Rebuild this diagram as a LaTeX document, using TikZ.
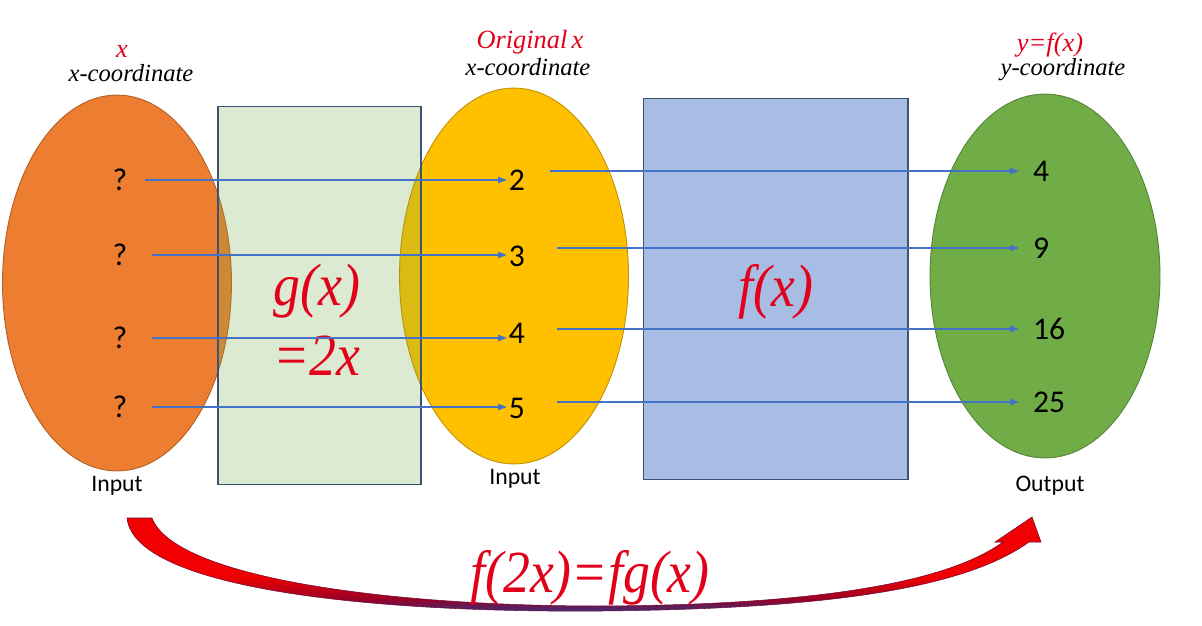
\documentclass[tikz,border=0pt]{standalone}
\usepackage{fontspec}
\setmainfont{Liberation Serif}
\setsansfont{Carlito}
\newfontfamily\labelserif{Liberation Serif}
\usetikzlibrary{arrows.meta, shapes.geometric}

\definecolor{setorange}{RGB}{237,125,49}
\definecolor{setyellow}{RGB}{255,192,0}
\definecolor{setgreen}{RGB}{112,173,71}
\definecolor{boxblue}{RGB}{168,189,228}
\definecolor{boxedge}{RGB}{62,82,118}
\definecolor{linkblue}{RGB}{68,114,196}
\definecolor{redtext}{RGB}{226,0,26}
\definecolor{arrowred}{RGB}{240,0,0}
\definecolor{arrowdark}{RGB}{150,0,40}
\definecolor{arrowblue}{RGB}{45,55,135}

\pgfdeclareverticalshading{bendshade}{100bp}{color(0bp)=(arrowblue); color(25bp)=(arrowblue);
  color(32bp)=(arrowdark); color(44bp)=(arrowred); color(100bp)=(arrowred)}

\begin{document}
\begin{tikzpicture}[x=0.02cm, y=-0.02cm,
    blob/.style={ellipse, line width=0.5pt, inner sep=0pt},
    mapbox/.style={rectangle, draw=boxedge, line width=0.6pt, inner sep=0pt},
    num/.style={font=\sffamily\fontsize{18}{20}\selectfont, inner sep=1pt},
    link/.style={draw=linkblue, line width=0.6pt, -{Triangle[length=5pt, width=3.6pt]}},
    coordlbl/.style={font=\labelserif\itshape\fontsize{14}{16}\selectfont, inner sep=0pt},
    redlbl/.style={font=\labelserif\itshape\fontsize{15}{17}\selectfont, text=redtext, inner sep=0pt},
    biglbl/.style={font=\labelserif\itshape\fontsize{34}{40}\selectfont, text=redtext, xscale=0.9, inner sep=0pt, align=center},
    iolbl/.style={font=\sffamily\fontsize{13.5}{15}\selectfont, inner sep=0pt}]

    \useasboundingbox (0,0) rectangle (1202,625);

    % 1. sets and mapping boxes
    \node[blob, fill=setorange, draw=setorange!75!black, minimum width=4.58cm, minimum height=7.52cm] (inset) at (117,283) {};
    \node[blob, fill=setyellow, draw=setyellow!75!black, minimum width=4.58cm, minimum height=7.52cm] (midset) at (514,276) {};
    \node[mapbox, fill=setgreen, fill opacity=0.25, minimum width=4.06cm, minimum height=7.58cm] (gbox) at (319.5,295.5) {};
    \node[mapbox, fill=boxblue, minimum width=5.3cm, minimum height=7.64cm] (fbox) at (775.5,289) {};
    \node[blob, fill=setgreen, draw=setgreen!75!black, minimum width=4.6cm, minimum height=7.28cm] (outset) at (1045,276) {};

    % 2. labels above the sets
    \node[redlbl] (xname) at (122,51) {x};
    \node[coordlbl] (xcoordA) at (131,73) {x-coordinate};
    \node[redlbl] (origname) at (530,42) {Original\,x};
    \node[coordlbl] (xcoordB) at (528,67) {x-coordinate};
    \node[redlbl] (yname) at (1050,45) {y=f(x)};
    \node[coordlbl] (ycoord) at (1063,70) {y-coordinate};

    % 3. labels below the sets
    \node[iolbl] (inA) at (117,486) {Input};
    \node[iolbl] (inB) at (515,479) {Input};
    \node[iolbl] (outC) at (1050,486) {Output};

    % 4. function names
    \node[biglbl] (gname) at (317,320) {g(x)\\=2x};
    \node[biglbl] (fname) at (776,292) {f(x)};

    % 5. elements of the sets
    \node[num] (q1) at (120,180) {?};
    \node[num] (q2) at (120,255) {?};
    \node[num] (q3) at (120,338) {?};
    \node[num] (q4) at (120,407) {?};

    \node[num] (m1) at (517,180) {2};
    \node[num] (m2) at (517,256) {3};
    \node[num] (m3) at (517,333) {4};
    \node[num] (m4) at (517,408) {5};

    \node[num, anchor=west] (r1) at (1031,171) {4};
    \node[num, anchor=west] (r2) at (1031,248) {9};
    \node[num, anchor=west] (r3) at (1031,329) {16};
    \node[num, anchor=west] (r4) at (1031,402) {25};

    % 6. mapping arrows
    \draw[link] ([xshift=0.32cm]q1.east) -- (q1 -| m1.west);
    \draw[link] ([xshift=0.46cm]q2.east) -- (q2 -| m2.west);
    \draw[link] ([xshift=0.46cm]q3.east) -- (q3 -| m3.west);
    \draw[link] ([xshift=0.46cm]q4.east) -- (q4 -| m4.west);

    \draw[link, shorten >=0.24cm] ([xshift=0.46cm]m1.east |- r1.west) -- (r1.west);
    \draw[link, shorten >=0.24cm] ([xshift=0.6cm]m2.east |- r2.west) -- (r2.west);
    \draw[link, shorten >=0.24cm] ([xshift=0.6cm]m3.east |- r3.west) -- (r3.west);
    \draw[link, shorten >=0.24cm] ([xshift=0.6cm]m4.east |- r4.west) -- (r4.west);

    % 7. composite arrow
    \shade[shading=bendshade, draw={rgb,255:red,110;green,10;blue,50}, line width=0.3pt]
      (127,518) .. controls (134,585) and (350,613) .. (600,611)
      .. controls (830,609) and (965,588) .. (1029,542)
      -- (1041,542) -- (1032,517) -- (995,542) -- (1003,542)
      .. controls (945,584) and (810,605) .. (600,606)
      .. controls (390,606) and (175,578) .. (152,518) -- cycle;
    \node[biglbl] (compname) at (590,578) {f(2x)=fg(x)};

\end{tikzpicture}
\end{document}
